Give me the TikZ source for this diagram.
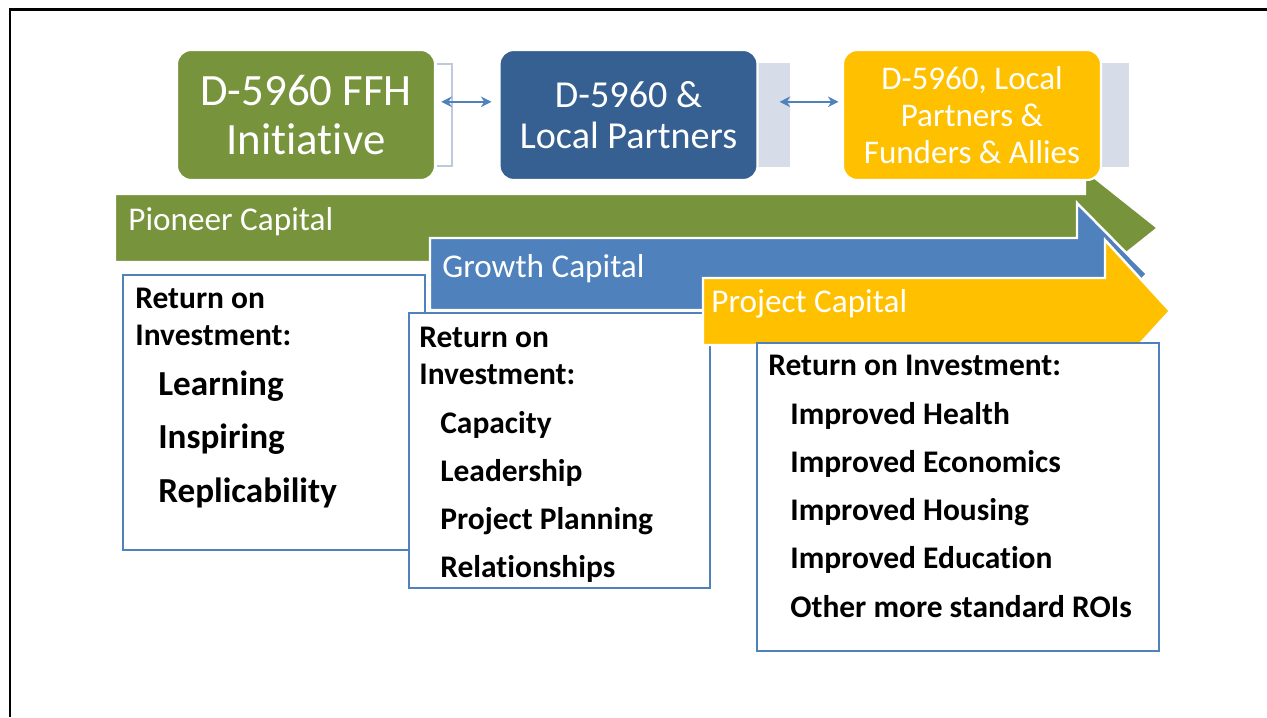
\documentclass[tikz,border=0pt]{standalone}
\usepackage{fontspec}
\setmainfont{Carlito}[Ligatures=NoCommon]
\usetikzlibrary{arrows.meta}

\begin{document}
\begin{tikzpicture}[x=0.02cm, y=-0.02cm,
    topbox/.style={rounded corners=8pt, minimum width=5.16cm, minimum height=2.6cm, draw=white, line width=1.2pt, text=white, align=center, inner sep=1pt},
    capband/.style={draw=white, line width=1.4pt, line join=miter},
    bandlabel/.style={anchor=base west, text=white, inner sep=0pt, font=\fontsize{18.9}{22}\selectfont},
    roibox/.style={draw=roiblue, line width=1.3pt, fill=white},
    roihead/.style={anchor=base west, font=\fontsize{17.9}{21}\selectfont\bfseries, align=left, inner sep=0pt},
    roiitem/.style={anchor=base west, font=\fontsize{17.9}{21}\selectfont\bfseries, inner sep=0pt},
    linkarrow/.style={{Stealth[length=6pt,width=6pt]}-{Stealth[length=6pt,width=6pt]}, draw=roiblue, line width=0.9pt}]

        % Colours
        \definecolor{ffhgreen}{RGB}{119,147,60}
        \definecolor{partnerblue}{RGB}{54,96,146}
        \definecolor{allyyellow}{RGB}{255,192,0}
        \definecolor{roiblue}{RGB}{79,129,189}
        \definecolor{panelgray}{RGB}{214,221,232}
        \definecolor{bracketgray}{RGB}{190,201,222}

        \fill[white] (0,0) rectangle (1267,717);
        \useasboundingbox (0,0) rectangle (1267,717);

        % Frame
        \draw[line width=1.7pt] (10,717) -- (10,9.5) -- (1267,9.5);

        % Pioneer Capital (under the top boxes)
        \fill[ffhgreen, capband] (115,194) -- (1085,194) -- (1085,170) -- (1158,228) -- (1085,286) -- (1085,262) -- (115,262) -- cycle;
        \node[bandlabel] (pioneer) at (128,230) {Pioneer Capital};

        % Panels behind the top boxes
        \draw[bracketgray, line width=1.2pt] (437,64) -- (452,64) -- (452,166) -- (437,166);
        \fill[panelgray] (757,63) rectangle (790,167);
        \fill[panelgray] (1101,63) rectangle (1129,167);

        % Top boxes
        \node[topbox, fill=ffhgreen, font=\fontsize{25.5}{27.9}\selectfont] (ffh) at (306,115) {D-5960 FFH\\Initiative};
        \node[topbox, fill=partnerblue, font=\fontsize{21.7}{23.3}\selectfont] (dlp) at (628.5,115) {D-5960 \&\\Local Partners};
        \node[topbox, fill=allyyellow, font=\fontsize{18.8}{21}\selectfont] (dfa) at (972,115) {D-5960, Local\\Partners \&\\Funders \& Allies};

        \draw[linkarrow, shorten <=3pt, shorten >=4pt] ([yshift=7.5pt]ffh.east) -- ([yshift=7.5pt]dlp.west);
        \draw[linkarrow, shorten <=12pt, shorten >=2pt] ([yshift=7.5pt]dlp.east) -- ([yshift=7.5pt]dfa.west);

        \draw[roibox] (123,275) rectangle (425,550);
        \node[roihead] (roi1) at (135,345) {Return on\\Investment:};
        \foreach \txt [count=\i] in {Learning, Inspiring, Replicability}
            \node[roiitem, font=\fontsize{20}{24}\selectfont\bfseries] (pion\i) at (158,{395+53.5*(\i-1)}) {\txt};

        % Growth Capital
        \fill[roiblue, capband] (430,238) -- (1077,238) -- (1077,203) -- (1147,274) -- (1077,345) -- (1077,310) -- (430,310) -- cycle;
        \node[bandlabel] (growth) at (442,277) {Growth Capital};

        \draw[roibox] (409,313) rectangle (710,588);
        \node[roihead] (roi2) at (419,384) {Return on\\Investment:};
        \foreach \txt [count=\i] in {Capacity, Leadership, Project Planning, Relationships}
            \node[roiitem] (grow\i) at (440,{433+48*(\i-1)}) {\txt};

        % Project Capital
        \fill[allyyellow, capband] (703,278) -- (1105,278) -- (1105,240) -- (1170,311) -- (1105,382) -- (1105,345) -- (703,345) -- cycle;
        \node[bandlabel] (project) at (711,312) {Project Capital};

        \draw[roibox] (757,343) rectangle (1159,651);
        \node[roihead] (roi3) at (768,375) {Return on Investment:};
        \foreach \txt [count=\i] in {Improved Health, Improved Economics, Improved Housing, Improved Education, Other more standard ROIs}
            \node[roiitem] (proj\i) at (790,{424+48.3*(\i-1)}) {\txt};
    \end{tikzpicture}
\end{document}
